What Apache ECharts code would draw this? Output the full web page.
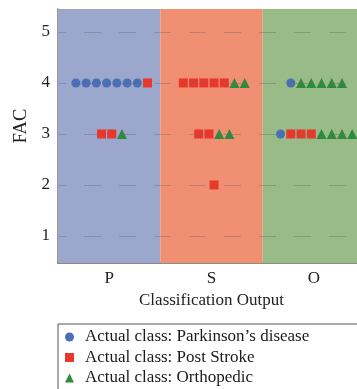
<!DOCTYPE html>
<html>
<head>
<meta charset="utf-8">
<script src="https://cdn.jsdelivr.net/npm/echarts@6/dist/echarts.min.js"></script>
<style>
  html, body { margin: 0; padding: 0; background: #fff; }
  #chart { width: 357px; height: 389px; }
</style>
</head>
<body>
<div id="chart"></div>
<script>
// predicted classes on the x axis
const categories = ['P', 'S', 'O'];
// FAC levels shown on the y axis
const yTicks = [1, 2, 3, 4, 5];
const seriesNames = [
  'Actual class: Parkinson\u2019s disease',
  'Actual class: Post Stroke',
  'Actual class: Orthopedic'
];
// each row: [predicted class, FAC, nParkinson, nStroke, nOrtho]
const groups = [
  ['P', 4, 7, 1, 0],
  ['P', 3, 0, 2, 1],
  ['S', 4, 0, 5, 2],
  ['S', 3, 0, 2, 2],
  ['S', 2, 0, 1, 0],
  ['O', 4, 1, 0, 5],
  ['O', 3, 1, 3, 4]
];

const bandColors = ['#9ba7cd', '#f18f72', '#98bb87'];
const markerColors = ['#4a6fb5', '#e8382c', '#2e8a3c'];
const markerSymbols = ['circle', 'rect', 'triangle'];
const markerSizes = [9, 9, 10];
const serif = 'Liberation Serif';

// lay the points of one group side by side around the category centre
const step = 0.1, shift = 0.025;
const points = [[], [], []];
groups.forEach(([cat, fac, ...counts]) => {
  const n = counts.reduce((a, b) => a + b, 0);
  let i = 0;
  counts.forEach((c, k) => {
    for (let j = 0; j < c; j++) {
      const x = categories.indexOf(cat) + 0.5 + shift + (i - (n - 1) / 2) * step;
      points[k].push([x, fac]);
      i++;
    }
  });
});

const chart = echarts.init(document.getElementById('chart'));
const option = {
  animation: false,
  grid: { left: 58, width: 307, top: 9, height: 254, outerBoundsMode: 'none', containLabel: false },
  legend: {
    data: seriesNames,
    orient: 'vertical',
    left: 58,
    top: 324,
    height: 70,
    padding: [3, 90, 15, 7],
    borderColor: '#555',
    borderWidth: 1,
    itemWidth: 9,
    itemHeight: 9,
    itemGap: 0.5,
    selectedMode: false,
    textStyle: { fontFamily: serif, fontSize: 17, color: '#1a1a1a', lineHeight: 20, padding: [0, 0, 0, 6] }
  },
  xAxis: [
    {
      type: 'category',
      data: categories,
      boundaryGap: true,
      axisLine: { lineStyle: { color: '#666', width: 1.5 } },
      axisTick: { show: false },
      axisLabel: { fontFamily: serif, fontSize: 17, color: '#222', margin: 7 },
      name: 'Classification Output',
      nameLocation: 'middle',
      nameGap: 28,
      nameTextStyle: { fontFamily: serif, fontSize: 17, color: '#222' }
    },
    { type: 'value', min: 0, max: 3, show: false }
  ],
  yAxis: {
    type: 'value',
    min: 0.47,
    max: 5.45,
    splitNumber: 5,
    axisLine: { show: true, lineStyle: { color: '#777', width: 1.5 } },
    axisTick: { show: false },
    splitLine: { show: false },
    axisLabel: {
      fontFamily: serif, fontSize: 17, color: '#222', margin: 8,
      formatter: v => (yTicks.includes(v) ? String(v) : '')
    },
    name: 'FAC',
    nameLocation: 'middle',
    nameGap: 24,
    nameTextStyle: { fontFamily: serif, fontSize: 18.5, color: '#222', padding: [0, 0, 0, 20] }
  },
  series: [
    {
      name: 'bands',
      type: 'scatter',
      xAxisIndex: 1,
      data: [],
      z: 0,
      silent: true,
      markArea: {
        silent: true,
        data: categories.map((c, i) => [
          { xAxis: i, itemStyle: { color: bandColors[i] } },
          { xAxis: i + 1 }
        ])
      }
    },
    {
      name: 'gridlines',
      type: 'scatter',
      xAxisIndex: 1,
      data: [],
      z: 1,
      silent: true,
      markLine: {
        silent: true,
        symbol: 'none',
        label: { show: false },
        lineStyle: { color: 'rgba(105,105,105,0.4)', width: 1, type: [17, 18], dashOffset: 9 },
        data: yTicks.map(v => ({ yAxis: v }))
      }
    },
    ...seriesNames.map((name, k) => ({
      name: name,
      type: 'scatter',
      xAxisIndex: 1,
      z: 3,
      symbol: markerSymbols[k],
      symbolSize: markerSizes[k],
      itemStyle: { color: markerColors[k], opacity: 1 },
      data: points[k]
    }))
  ]
};
chart.setOption(option);
</script>
</body>
</html>
